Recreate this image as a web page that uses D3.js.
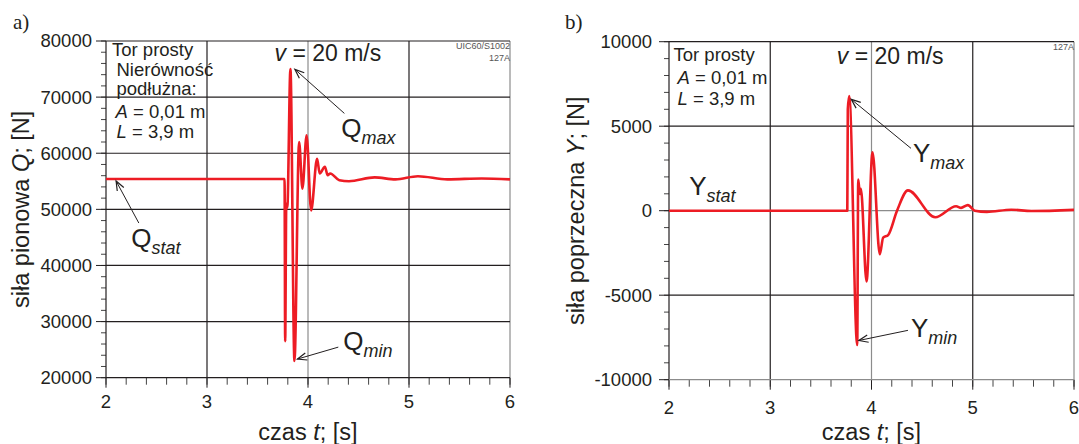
<!DOCTYPE html>
<html lang="pl">
<head>
<meta charset="UTF-8">
<title>Siły w kontakcie koło-szyna</title>
<script src="https://d3js.org/d3.v7.min.js"></script>
<style>
  body { margin: 0; background: #fff; }
  svg text { font-family: "Liberation Sans", Arial, sans-serif; fill: #231f20; }
  .panel-tag { font-family: "Liberation Serif", "Times New Roman", serif; }
</style>
</head>
<body>
<svg id="chart" width="1079" height="444"></svg>
<script>
  // axis ticks
  const timeTicks = [2, 3, 4, 5, 6];
  const qTicks = [20000, 30000, 40000, 50000, 60000, 70000, 80000];
  const yTicks = [-10000, -5000, 0, 5000, 10000];

  // a) vertical force Q [N] vs time [s]
  const qTime  = [2, 3.768, 3.774, 3.785, 3.795, 3.826, 3.866, 3.912, 3.945, 3.986, 4.031, 4.09, 4.116, 4.167, 4.195, 4.22, 4.31, 4.406, 4.66, 4.866, 5.088, 5.38, 5.72, 6];
  const qForce = [55400, 55400, 26500, 51000, 50300, 75000, 23000, 62000, 53700, 63200, 49800, 59000, 56400, 57600, 56100, 56400, 55200, 55000, 55700, 55350, 55900, 55350, 55500, 55350];

  // b) lateral force Y [N] vs time [s]
  const yTime  = [2, 3.761, 3.766, 3.78, 3.859, 3.869, 3.885, 3.895, 3.951, 4.01, 4.082, 4.115, 4.164, 4.252, 4.36, 4.63, 4.836, 4.885, 4.951, 5.02, 5.14, 5.38, 5.58, 6];
  const yForce = [0, 0, 6000, 6790, -7950, 1850, 990, 1290, -4180, 3460, -2580, -1590, -1440, 0, 1200, -390, 260, 170, 330, 0, -70, 60, -20, 50];

  const svg = d3.select("#chart");
  const ink = "#231f20";
  const grey = "#8c8c8c";
  const red = "#ed1c24";

  function arrow(g, x1, y1, x2, y2) {
    const a = Math.atan2(y2 - y1, x2 - x1);
    const len = 10, spread = 0.38;
    g.append("line")
      .attr("x1", x1).attr("y1", y1).attr("x2", x2).attr("y2", y2)
      .attr("stroke", ink).attr("stroke-width", 1);
    g.append("path")
      .attr("d", "M" + (x2 - len * Math.cos(a - spread)) + "," + (y2 - len * Math.sin(a - spread)) +
                 "L" + x2 + "," + y2 +
                 "L" + (x2 - len * Math.cos(a + spread)) + "," + (y2 - len * Math.sin(a + spread)))
      .attr("fill", "none").attr("stroke", ink).attr("stroke-width", 1.2);
  }

  function subLabel(g, px, py, main, sub) {
    const t = g.append("text").attr("x", px).attr("y", py).style("font-size", "26px");
    t.append("tspan").text(main);
    t.append("tspan").attr("dy", 7).style("font-size", "18px").style("font-style", "italic").text(sub);
  }

  function drawPanel(p) {
    const x = d3.scaleLinear().domain([2, 6]).range([p.left, p.right]);
    const y = d3.scaleLinear().domain(d3.extent(p.ticks)).range([p.bottom, p.top]);
    const g = svg.append("g");

    // minor ticks
    g.selectAll(".xminor").data(d3.range(2, 6.001, 0.2)).join("line")
      .attr("x1", d => x(d)).attr("x2", d => x(d))
      .attr("y1", p.bottom).attr("y2", p.bottom + 7)
      .attr("stroke", "#444").attr("stroke-width", 1);
    const [y0, y1] = d3.extent(p.ticks);
    g.selectAll(".yminor").data(d3.range(y0, y1 + 1, p.minor)).join("line")
      .attr("x1", p.left - 5).attr("x2", p.left)
      .attr("y1", d => y(d)).attr("y2", d => y(d))
      .attr("stroke", "#444").attr("stroke-width", 1);

    // major ticks
    g.selectAll(".xmajor").data(timeTicks).join("line")
      .attr("x1", d => x(d)).attr("x2", d => x(d))
      .attr("y1", p.bottom).attr("y2", p.bottom + 10)
      .attr("stroke", ink).attr("stroke-width", 1);
    g.selectAll(".ymajor").data(p.ticks).join("line")
      .attr("x1", p.left - 10).attr("x2", p.left)
      .attr("y1", d => y(d)).attr("y2", d => y(d))
      .attr("stroke", ink).attr("stroke-width", 1);

    // grid
    g.selectAll(".vgrid").data(timeTicks).join("line")
      .attr("x1", d => x(d)).attr("x2", d => x(d))
      .attr("y1", p.top).attr("y2", p.bottom)
      .attr("stroke", d => (d === 4 || d === 6) ? grey : ink).attr("stroke-width", 1.2);
    g.selectAll(".hgrid").data(p.ticks).join("line")
      .attr("x1", p.left).attr("x2", p.right)
      .attr("y1", d => y(d)).attr("y2", d => y(d))
      .attr("stroke", d => p.greyY.includes(d) ? grey : ink).attr("stroke-width", 1.2);

    // tick labels
    g.selectAll(".xlab").data(timeTicks).join("text")
      .attr("x", d => x(d)).attr("y", p.bottom + p.xLabGap)
      .attr("text-anchor", "middle").style("font-size", "18.5px")
      .text(d => d);
    g.selectAll(".ylab").data(p.ticks).join("text")
      .attr("x", p.labelEnd).attr("y", d => y(d)).attr("dy", "0.35em")
      .attr("text-anchor", "end").style("font-size", "18.5px")
      .text(d => d);

    // axis titles
    const xt = g.append("text")
      .attr("x", (p.left + p.right) / 2).attr("y", 440)
      .attr("text-anchor", "middle").style("font-size", "23.5px");
    xt.append("tspan").text("czas ");
    xt.append("tspan").style("font-style", "italic").text("t");
    xt.append("tspan").text("; [s]");

    const yt = g.append("text")
      .attr("transform", "translate(" + p.titleX + "," + (p.top + p.bottom) / 2 + ") rotate(-90)")
      .attr("text-anchor", "middle").style("font-size", "23.5px");
    yt.append("tspan").text(p.title + " ");
    yt.append("tspan").style("font-style", "italic").text(p.symbol);
    yt.append("tspan").text("; [N]");

    // signal
    const line = d3.line()
      .x((d, i) => x(p.time[i]))
      .y(d => y(d))
      .curve(d3.curveMonotoneX);
    g.append("path")
      .datum(p.values)
      .attr("d", line)
      .attr("fill", "none")
      .attr("stroke", red)
      .attr("stroke-width", 2.6)
      .attr("stroke-linejoin", "round");

    // panel tag
    g.append("text").attr("class", "panel-tag")
      .attr("x", p.tagX).attr("y", 29).style("font-size", "21px").text(p.tag);

    // velocity
    const v = g.append("text").attr("x", p.vX).attr("y", p.vY).style("font-size", "23px");
    v.append("tspan").style("font-style", "italic").text("v");
    v.append("tspan").text(" = 20 m/s");

    // small code labels, right aligned in the corner
    p.codes.forEach((c, i) => {
      g.append("text")
        .attr("x", p.right).attr("y", p.top + 8 + i * 12)
        .attr("text-anchor", "end").style("font-size", "9px").style("fill", "#555")
        .text(c);
    });

    // description block
    p.notes.forEach(n => {
      const t = g.append("text").attr("x", p.left + n.dx).attr("y", n.y).style("font-size", "18.5px");
      if (n.sym) {
        t.append("tspan").style("font-style", "italic").text(n.sym);
      }
      t.append("tspan").text(n.text);
    });

    // peak annotations
    p.marks.forEach(m => {
      subLabel(g, x(m.tx), y(m.ty), p.symbol, m.sub);
      if (m.from) arrow(g, x(m.from[0]), y(m.from[1]), x(m.to[0]), y(m.to[1]));
    });
  }

  drawPanel({
    left: 106, right: 510, top: 41, bottom: 377.7,
    ticks: qTicks, minor: 2000, greyY: [],
    time: qTime, values: qForce,
    labelEnd: 92, titleX: 29, xLabGap: 30,
    title: "siła pionowa", symbol: "Q",
    tag: "a)", tagX: 13,
    vX: 274.5, vY: 61,
    codes: ["UIC60/S1002", "127A"],
    notes: [
      { dx: 6, y: 56, text: "Tor prosty" },
      { dx: 10.5, y: 76, text: "Nierówność" },
      { dx: 10.5, y: 95, text: "podłużna:" },
      { dx: 9.5, y: 118, sym: "A", text: " = 0,01 m" },
      { dx: 10.5, y: 138, sym: "L", text: " = 3,9 m" }
    ],
    marks: [
      { sub: "max", tx: 4.33, ty: 62900, from: [4.36, 67100], to: [3.87, 74950] },
      { sub: "stat", tx: 2.25, ty: 43300, from: [2.325, 47560], to: [2.10, 55050] },
      { sub: "min", tx: 4.35, ty: 24900, from: [4.30, 25450], to: [3.895, 23320] }
    ]
  });

  drawPanel({
    left: 669, right: 1074, top: 41.7, bottom: 379.7,
    ticks: yTicks, minor: 1000, greyY: [0, -10000],
    time: yTime, values: yForce,
    labelEnd: 652, titleX: 584, xLabGap: 34,
    title: "siła poprzeczna", symbol: "Y",
    tag: "b)", tagX: 565,
    vX: 836.8, vY: 63.5,
    codes: ["127A"],
    notes: [
      { dx: 4.5, y: 61, text: "Tor prosty" },
      { dx: 8.5, y: 83.5, sym: "A", text: " = 0,01 m" },
      { dx: 8.5, y: 104.5, sym: "L", text: " = 3,9 m" }
    ],
    marks: [
      { sub: "max", tx: 4.41, ty: 2860, from: [4.39, 3690], to: [3.80, 6590] },
      { sub: "stat", tx: 2.20, ty: 900 },
      { sub: "min", tx: 4.39, ty: -7500, from: [4.36, -7080], to: [3.875, -7680] }
    ]
  });
</script>
</body>
</html>
